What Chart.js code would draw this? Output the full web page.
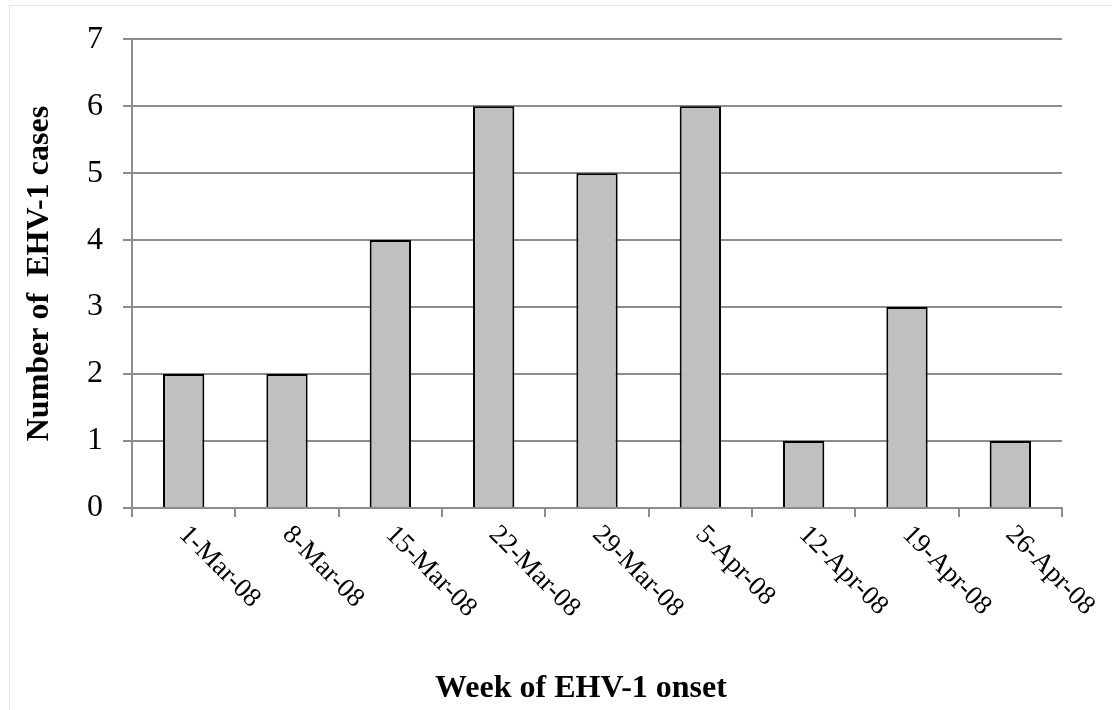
<!DOCTYPE html>
<html>
<head>
<meta charset="utf-8">
<script src="https://cdn.jsdelivr.net/npm/chart.js@4/dist/chart.umd.min.js"></script>
<style>
  html, body { margin: 0; padding: 0; background: #fff; }
  #wrap { width: 1112px; height: 710px; position: relative; }
</style>
</head>
<body>
<div id="wrap"><canvas id="c" width="1112" height="710"></canvas></div>
<script>
// Weekly EHV-1 case counts by week of onset
const weeks = ['1-Mar-08', '8-Mar-08', '15-Mar-08', '22-Mar-08', '29-Mar-08', '5-Apr-08', '12-Apr-08', '19-Apr-08', '26-Apr-08'];
const cases = [2, 2, 4, 6, 5, 6, 1, 3, 1];
const yTicks = [0, 1, 2, 3, 4, 5, 6, 7];
const xTitle = 'Week of EHV-1 onset';
const yTitle = 'Number of  EHV-1 cases';

const SERIF = '"Liberation Serif", "Times New Roman", serif';
const GRID = '#8c8c8c';

// Light frame around the figure area
const framePlugin = {
  id: 'frame',
  beforeDraw(chart) {
    const ctx = chart.ctx;
    ctx.save();
    ctx.strokeStyle = '#e4e4e4';
    ctx.lineWidth = 1;
    ctx.beginPath();
    ctx.moveTo(9.5, 710);
    ctx.lineTo(9.5, 5.5);
    ctx.lineTo(1112, 5.5);
    ctx.stroke();
    ctx.restore();
  }
};

// Category labels slanted downward to the right, plus the horizontal axis title
const slantLabels = {
  id: 'slantLabels',
  afterDraw(chart) {
    const xs = chart.scales.x;
    const ctx = chart.ctx;
    ctx.save();
    ctx.fillStyle = '#000';
    ctx.font = '27px ' + SERIF;
    ctx.textAlign = 'left';
    ctx.textBaseline = 'top';
    weeks.forEach((w, i) => {
      const x = xs.getPixelForValue(i);
      ctx.save();
      ctx.translate(x + 9, xs.top + 13);
      ctx.rotate(Math.PI / 4);
      ctx.fillText(w, 0, 0);
      ctx.restore();
    });
    ctx.font = 'bold 32px ' + SERIF;
    ctx.textAlign = 'center';
    ctx.textBaseline = 'middle';
    ctx.fillText(xTitle, 581, 689);
    ctx.restore();
  }
};

new Chart(document.getElementById('c'), {
  type: 'bar',
  data: {
    labels: weeks,
    datasets: [{
      data: cases,
      backgroundColor: '#c0c0c0',
      borderColor: '#000',
      borderWidth: 2,
      categoryPercentage: 1,
      barPercentage: 0.4
    }]
  },
  options: {
    responsive: false,
    animation: false,
    devicePixelRatio: 1,
    layout: { padding: { top: 33, right: 50, bottom: 0, left: 0 } },
    plugins: { legend: { display: false }, tooltip: { enabled: false } },
    scales: {
      x: {
        afterFit(s) { s.height = 202; },
        grid: { offset: true, drawOnChartArea: false, tickLength: 9, color: GRID, lineWidth: 2 },
        border: { color: GRID, width: 2 },
        ticks: { display: false }
      },
      y: {
        min: 0,
        max: 7,
        afterFit(s) { s.width = 132; },
        afterBuildTicks(s) { s.ticks = yTicks.map(v => ({ value: v })); },
        grid: { color: GRID, lineWidth: 2, tickLength: 9 },
        border: { color: GRID, width: 2 },
        ticks: {
          color: '#000',
          font: { family: SERIF, size: 32 },
          padding: 20
        },
        title: {
          display: true,
          text: yTitle,
          color: '#000',
          font: { family: SERIF, size: 32, weight: 'bold' },
          padding: { top: 21, bottom: 0 }
        }
      }
    }
  },
  plugins: [framePlugin, slantLabels]
});
</script>
</body>
</html>
